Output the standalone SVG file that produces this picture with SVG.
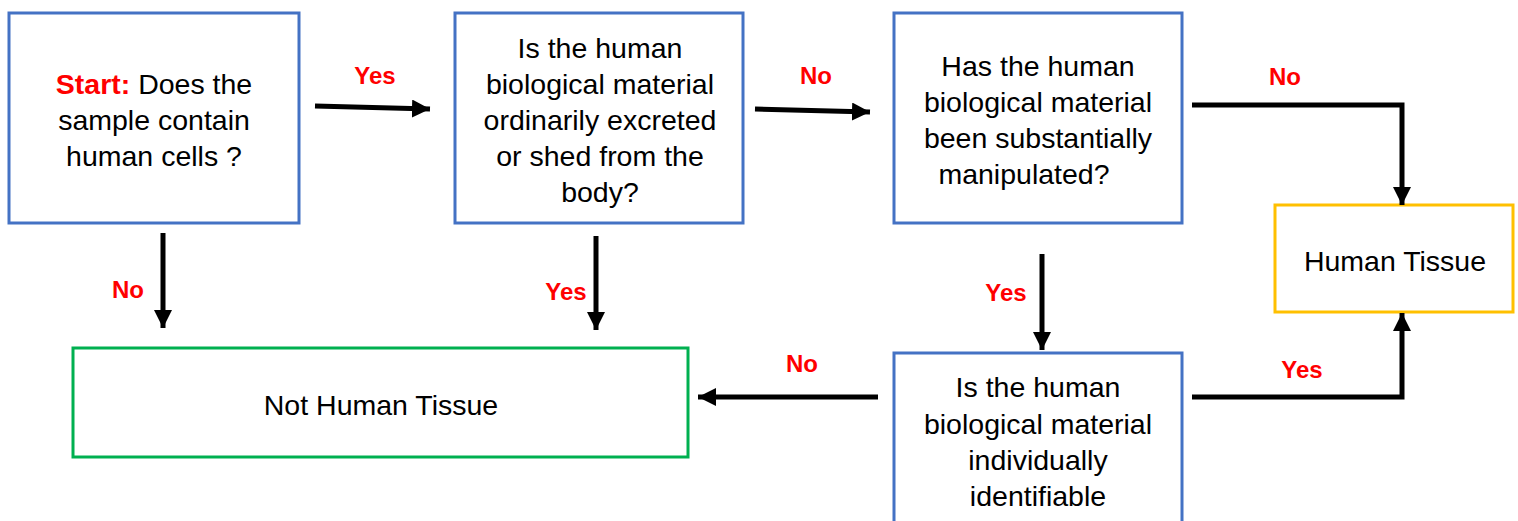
<svg xmlns="http://www.w3.org/2000/svg" width="1518" height="521" viewBox="0 0 1518 521">
<style>
.box{fill:#fff;stroke-width:3}
.q{stroke:#4472C4}
.g{stroke:#00B050}
.y{stroke:#FFC000}
.t{font-family:"Liberation Sans",Arial,sans-serif;font-size:28.5px;fill:#000;text-anchor:middle}
.l{font-family:"Liberation Sans",Arial,sans-serif;font-size:24px;font-weight:bold;fill:#FF0000;text-anchor:middle}
.c{fill:none;stroke:#000;stroke-width:5;marker-end:url(#ah)}
</style>
<defs>
<marker id="ah" viewBox="0 0 18 18" markerWidth="18" markerHeight="18" refX="18" refY="9" orient="auto" markerUnits="userSpaceOnUse">
<path d="M0,0 L18,9 L0,18 z" fill="#000"/>
</marker>
</defs>
<rect width="1518" height="521" fill="#fff"/>
<g id="n1">
<rect class="box q" x="9" y="13" width="290" height="210"/>
<text class="t" x="154" y="94"><tspan style="font-weight:bold;fill:#FF0000">Start:</tspan> Does the</text>
<text class="t" x="154" y="130">sample contain</text>
<text class="t" x="154" y="166">human cells ?</text>
</g>
<g id="n2">
<rect class="box q" x="455" y="13" width="288" height="210"/>
<text class="t" x="600" y="58">Is the human</text>
<text class="t" x="600" y="94">biological material</text>
<text class="t" x="600" y="130">ordinarily excreted</text>
<text class="t" x="600" y="166">or shed from the</text>
<text class="t" x="600" y="202">body?</text>
</g>
<g id="n3">
<rect class="box q" x="894" y="13" width="288" height="210"/>
<text class="t" x="1038" y="76">Has the human</text>
<text class="t" x="1038" y="112">biological material</text>
<text class="t" x="1038" y="148">been substantially</text>
<text class="t" x="1024" y="184">manipulated?</text>
</g>
<g id="n4">
<rect class="box y" x="1275" y="205" width="238" height="107"/>
<text class="t" x="1395" y="271">Human Tissue</text>
</g>
<g id="n5">
<rect class="box g" x="73" y="348" width="615" height="109"/>
<text class="t" x="381" y="415">Not Human Tissue</text>
</g>
<g id="n6">
<rect class="box q" x="894" y="353" width="288" height="180"/>
<text class="t" x="1038" y="397">Is the human</text>
<text class="t" x="1038" y="434">biological material</text>
<text class="t" x="1038" y="470">individually</text>
<text class="t" x="1038" y="506">identifiable</text>
</g>
<g id="connectors">
<path class="c" d="M315,106 L430,109"/>
<path class="c" d="M755,109 L870,112"/>
<path class="c" d="M1192,105 H1402 V205"/>
<path class="c" d="M163,233 V328"/>
<path class="c" d="M596,236 V330"/>
<path class="c" d="M1042,254 V350"/>
<path class="c" d="M878,397 H698"/>
<path class="c" d="M1192,397 H1402 V313"/>
<text class="l" x="375" y="84">Yes</text>
<text class="l" x="816" y="84">No</text>
<text class="l" x="1285" y="85">No</text>
<text class="l" x="128" y="298">No</text>
<text class="l" x="566" y="300">Yes</text>
<text class="l" x="1006" y="301">Yes</text>
<text class="l" x="802" y="372">No</text>
<text class="l" x="1302" y="378">Yes</text>
</g>
</svg>
